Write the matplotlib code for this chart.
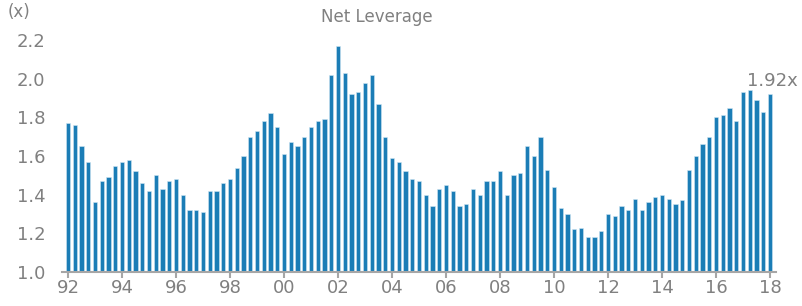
import numpy as np
import matplotlib.pyplot as plt

# quarterly net leverage, 1992Q1 .. 2018Q1
leverage = [
    1.77, 1.76, 1.65, 1.57, 1.36, 1.47, 1.49, 1.55,   # 92-93
    1.57, 1.58, 1.52, 1.46, 1.42, 1.50, 1.43, 1.47,   # 94-95
    1.48, 1.40, 1.32, 1.32, 1.31, 1.42, 1.42, 1.46,   # 96-97
    1.48, 1.54, 1.60, 1.70, 1.73, 1.78, 1.82, 1.75,   # 98-99
    1.61, 1.67, 1.65, 1.70, 1.75, 1.78, 1.79, 2.02,   # 00-01
    2.17, 2.03, 1.92, 1.93, 1.98, 2.02, 1.87, 1.70,   # 02-03
    1.59, 1.57, 1.52, 1.48, 1.47, 1.40, 1.34, 1.43,   # 04-05
    1.45, 1.42, 1.34, 1.35, 1.43, 1.40, 1.47, 1.47,   # 06-07
    1.52, 1.40, 1.50, 1.51, 1.65, 1.60, 1.70, 1.53,   # 08-09
    1.44, 1.33, 1.30, 1.22, 1.23, 1.18, 1.18, 1.21,   # 10-11
    1.30, 1.29, 1.34, 1.32, 1.38, 1.32, 1.36, 1.39,   # 12-13
    1.40, 1.38, 1.35, 1.37, 1.53, 1.60, 1.66, 1.70,   # 14-15
    1.80, 1.81, 1.85, 1.78, 1.93, 1.94, 1.89, 1.83,   # 16-17
    1.92,                                             # 18Q1
]
years = 1992 + np.arange(len(leverage)) / 4
tick_years = list(range(1992, 2019, 2))
tick_labels = ['%02d' % (y % 100) for y in tick_years]

bar_color = '#1b7db6'
text_color = '#808080'

plt.rcParams['font.family'] = ['DejaVu Sans']
fig = plt.figure(figsize=(8.02, 3.06), dpi=100)
ax = fig.add_axes([62 / 802, 1 - 272 / 306, (776 - 62) / 802, (272 - 40) / 306])

ax.bar(years, leverage, width=0.16, color=bar_color, edgecolor='#cfe6f3', linewidth=0.4)

ax.set_ylim(1.0, 2.2)
ax.set_xlim(1992 - 6 / 27, 1992 + 708 / 27)
ax.set_yticks(np.arange(1.0, 2.21, 0.2))
ax.set_yticklabels(['%.1f' % v for v in np.arange(1.0, 2.21, 0.2)])
ax.set_xticks(tick_years)
ax.set_xticklabels(tick_labels)

for s in ['top', 'right', 'left']:
    ax.spines[s].set_visible(False)
ax.spines['bottom'].set_color('#a6a6a6')
ax.spines['bottom'].set_linewidth(1.5)
ax.tick_params(axis='y', length=0, labelsize=13, labelcolor=text_color, pad=12)
ax.tick_params(axis='x', length=4, width=1.5, color='#a6a6a6', labelsize=13,
               labelcolor=text_color, pad=1)

fig.text(377 / 802, 1 - 17 / 306, 'Net Leverage', ha='center', va='center',
         fontsize=12, color=text_color)
fig.text(8 / 802, 1 - 12 / 306, '(x)', ha='left', va='center',
         fontsize=12, color=text_color)
ax.annotate('%.2fx' % leverage[-1], (years[-1], leverage[-1]), xytext=(2, 3),
            textcoords='offset points', ha='center', va='bottom',
            fontsize=13, color=text_color, annotation_clip=False)

fig.savefig('out.png', dpi=100)
